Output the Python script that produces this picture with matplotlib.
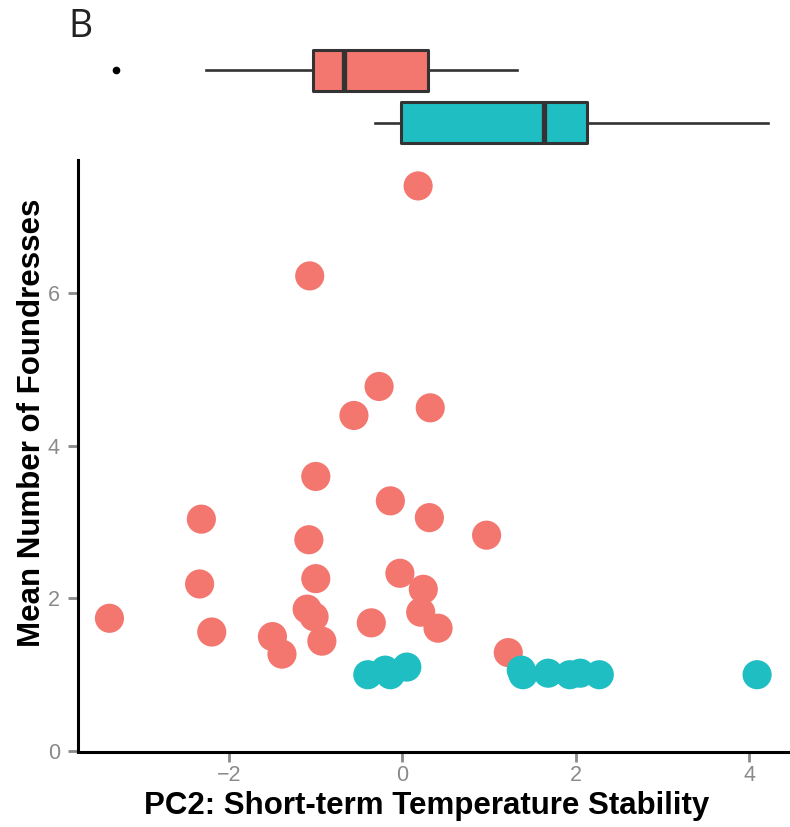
import matplotlib
matplotlib.use("Agg")
import matplotlib.pyplot as plt

# ---- data ----
red_x = [0.18, -1.07, -0.27, -0.56, 0.32, -1.00, -0.14, 0.31, 0.97, -2.32, -1.08, -1.00, -0.03,
         0.24, -2.34, -1.10, -1.02, 0.21, -3.38, -2.20, -0.36, 0.41, -0.93, -1.50, -1.39, 1.22]
red_y = [7.41, 6.23, 4.78, 4.40, 4.50, 3.60, 3.28, 3.06, 2.83, 3.04, 2.77, 2.26, 2.33,
         2.12, 2.19, 1.86, 1.76, 1.82, 1.74, 1.56, 1.68, 1.61, 1.44, 1.50, 1.27, 1.29]
teal_x = [-0.40, -0.20, -0.14, 0.05, 1.37, 1.39, 1.68, 1.93, 2.05, 2.27, 4.09]
teal_y = [1.00, 1.06, 1.00, 1.10, 1.06, 1.00, 1.02, 1.00, 1.02, 1.00, 1.00]

# marginal boxplot statistics
red_box = dict(whislo=-2.27, q1=-1.036, med=-0.671, q3=0.298, whishi=1.317, fliers=[-3.308])
teal_box = dict(whislo=-0.317, q1=-0.014, med=1.636, q3=2.125, whishi=4.219, fliers=[])

xticks = [-2, 0, 2, 4]
yticks = [0, 2, 4, 6]
xlabel = "PC2: Short-term Temperature Stability"
ylabel = "Mean Number of Foundresses"
panel = "B"

RED = "#F3766F"
TEAL = "#1FBEC3"
TICKC = "#8a8a8a"

W, H = 790, 827
fig = plt.figure(figsize=(W / 100, H / 100), dpi=100)

def px_axes(l, t, r, b):
    return fig.add_axes([l / W, 1 - b / H, (r - l) / W, (b - t) / H])

AL, AT, AR, AB = 78, 160, 790, 751.5
xlim = ((AL - 402.5) / 86.7, (AR - 402.5) / 86.7)

ax = px_axes(AL, AT, AR, AB)
ax.scatter(red_x, red_y, s=440, color=RED, edgecolors="none", zorder=3, clip_on=False)
ax.scatter(teal_x, teal_y, s=440, color=TEAL, edgecolors="none", zorder=3, clip_on=False)
ax.set_xlim(*xlim)
ax.set_ylim(-0.007, 7.75)
ax.set_xticks(xticks)
ax.set_yticks(yticks)
ax.set_xticklabels([f"\u2212{abs(v)}" if v < 0 else str(v) for v in xticks])
for s in ["top", "right"]:
    ax.spines[s].set_visible(False)
for s in ["left", "bottom"]:
    ax.spines[s].set_linewidth(2.2)
    ax.spines[s].set_color("black")
ax.tick_params(axis="both", colors=TICKC, length=7, width=2.0, labelsize=15.5)
ax.tick_params(axis="y", pad=6)
ax.tick_params(axis="x", pad=3)
for lab in ax.get_xticklabels() + ax.get_yticklabels():
    lab.set_fontfamily("Liberation Sans")
    lab.set_color(TICKC)
ax.set_xlabel(xlabel, fontsize=22.5, fontweight="bold", family="Liberation Sans", va="baseline")
ax.xaxis.set_label_coords((427 - AL) / (AR - AL), (AB - 814) / (AB - AT))
ax.set_ylabel(ylabel, fontsize=22.5, fontweight="bold", family="Liberation Sans", va="center")
ax.yaxis.set_label_coords((32 - AL) / (AR - AL), (AB - 422.5) / (AB - AT))

# marginal boxplot
axm = px_axes(AL, 44, AR, 149)
stats = [dict(teal_box, label=""), dict(red_box, label="")]
bp = axm.bxp(stats, positions=[1, 2], widths=0.78, vert=False, patch_artist=True,
             showcaps=False,
             boxprops=dict(linewidth=2.2, edgecolor="#333333"),
             whiskerprops=dict(linewidth=1.9, color="#333333"),
             medianprops=dict(linewidth=3.8, color="#333333", solid_capstyle="butt"),
             flierprops=dict(marker="o", markersize=4.5, markerfacecolor="black",
                             markeredgecolor="black"))
for patch, c in zip(bp["boxes"], [TEAL, RED]):
    patch.set_facecolor(c)
    patch.set_joinstyle("round")
axm.set_xlim(*xlim)
axm.set_ylim(0.5, 2.5)
axm.axis("off")

fig.text(68 / W, 1 - 37 / H, panel, fontsize=27, family="Open Sans", va="baseline", ha="left",
         color="#222222")

fig.savefig("out.png", dpi=100)
